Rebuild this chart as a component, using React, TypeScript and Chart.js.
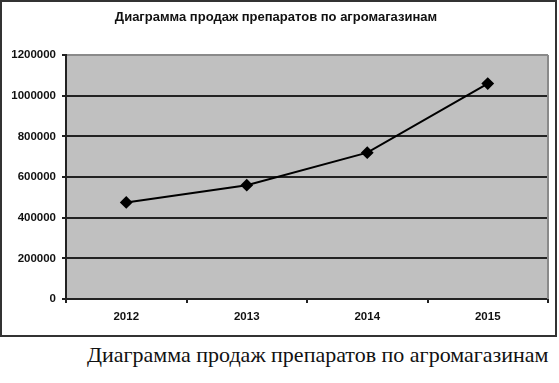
import React, { useEffect, useRef } from "react";
import { Chart, registerables } from "chart.js";

Chart.register(...registerables);

const title = "Диаграмма продаж препаратов по агромагазинам";
const caption = "Диаграмма продаж препаратов по агромагазинам";
const years = ["2012", "2013", "2014", "2015"];
const sales = [475000, 560000, 720000, 1060000];
const yMax = 1200000;
const yStep = 200000;

const plotDecor = {
  id: "plotDecor",
  beforeDraw(chart: any) {
    const { ctx, chartArea } = chart;
    ctx.save();
    ctx.fillStyle = "#c0c0c0";
    ctx.fillRect(chartArea.left, chartArea.top, chartArea.right - chartArea.left, chartArea.bottom - chartArea.top);
    ctx.restore();
  },
  beforeDatasetsDraw(chart: any) {
    const { ctx, chartArea } = chart;
    ctx.save();
    ctx.strokeStyle = "#8a8a8a";
    ctx.lineWidth = 2;
    ctx.beginPath();
    ctx.moveTo(chartArea.right, chartArea.top);
    ctx.lineTo(chartArea.right, chartArea.bottom);
    ctx.stroke();
    ctx.restore();
  },
};

const sans = "'Liberation Sans', Arial, sans-serif";

export default function App() {
  const ref = useRef<HTMLCanvasElement>(null);
  useEffect(() => {
    if (!ref.current) return;
    const chart = new Chart(ref.current, {
      type: "line",
      data: {
        labels: years,
        datasets: [
          {
            data: sales,
            borderColor: "#000",
            backgroundColor: "#000",
            borderWidth: 2,
            pointStyle: "rectRot",
            pointRadius: 5,
            pointBackgroundColor: "#000",
            pointBorderColor: "#000",
            tension: 0,
          },
        ],
      },
      options: {
        responsive: false,
        animation: false,
        layout: { padding: { left: 0, right: 5, top: 0, bottom: 0 } },
        plugins: {
          legend: { display: false },
          tooltip: { enabled: false },
          title: {
            display: true,
            text: title,
            color: "#111",
            font: { family: sans, size: 13, weight: "bold" },
            padding: { top: 8, bottom: 29.5 },
          },
        },
        scales: {
          x: {
            offset: true,
            grid: {
              display: true,
              drawOnChartArea: false,
              drawTicks: true,
              tickLength: 4,
              offset: true,
              color: "#222",
              lineWidth: 2,
            },
            border: { display: true, color: "#222", width: 2 },
            ticks: {
              color: "#111",
              padding: 7,
              font: { family: sans, size: 11.5, weight: "bold" },
            },
            afterFit(scale: any) {
              scale.height = 36;
            },
          },
          y: {
            min: 0,
            max: yMax,
            ticks: {
              stepSize: yStep,
              color: "#111",
              padding: 6,
              font: { family: sans, size: 11.5, weight: "bold" },
              callback: (v: any) => String(v),
            },
            grid: {
              color: (c: any) => (c.tick && c.tick.value === yMax ? "#8a8a8a" : "#222"),
              tickColor: "#222",
              lineWidth: 2,
              tickLength: 4,
            },
            border: { display: true, color: "#222", width: 2 },
            afterFit(scale: any) {
              scale.width = 64;
            },
          },
        },
      },
      plugins: [plotDecor],
    });
    return () => chart.destroy();
  }, []);

  return (
    <div style={{ position: "absolute", left: 0, top: 0, width: 559, height: 383, background: "#fff" }}>
      <div
        style={{
          position: "absolute",
          left: 0,
          top: 0,
          width: 553,
          height: 333,
          border: "2px solid #333",
          background: "#fff",
        }}
      >
        <canvas ref={ref} width={553} height={333} style={{ display: "block" }} />
      </div>
      <div
        style={{
          position: "absolute",
          left: 87,
          top: 341,
          fontFamily: "'Liberation Serif', 'Times New Roman', serif",
          fontSize: 22,
          lineHeight: "28px",
          color: "#111",
          whiteSpace: "nowrap",
        }}
      >
        {caption}
      </div>
    </div>
  );
}
